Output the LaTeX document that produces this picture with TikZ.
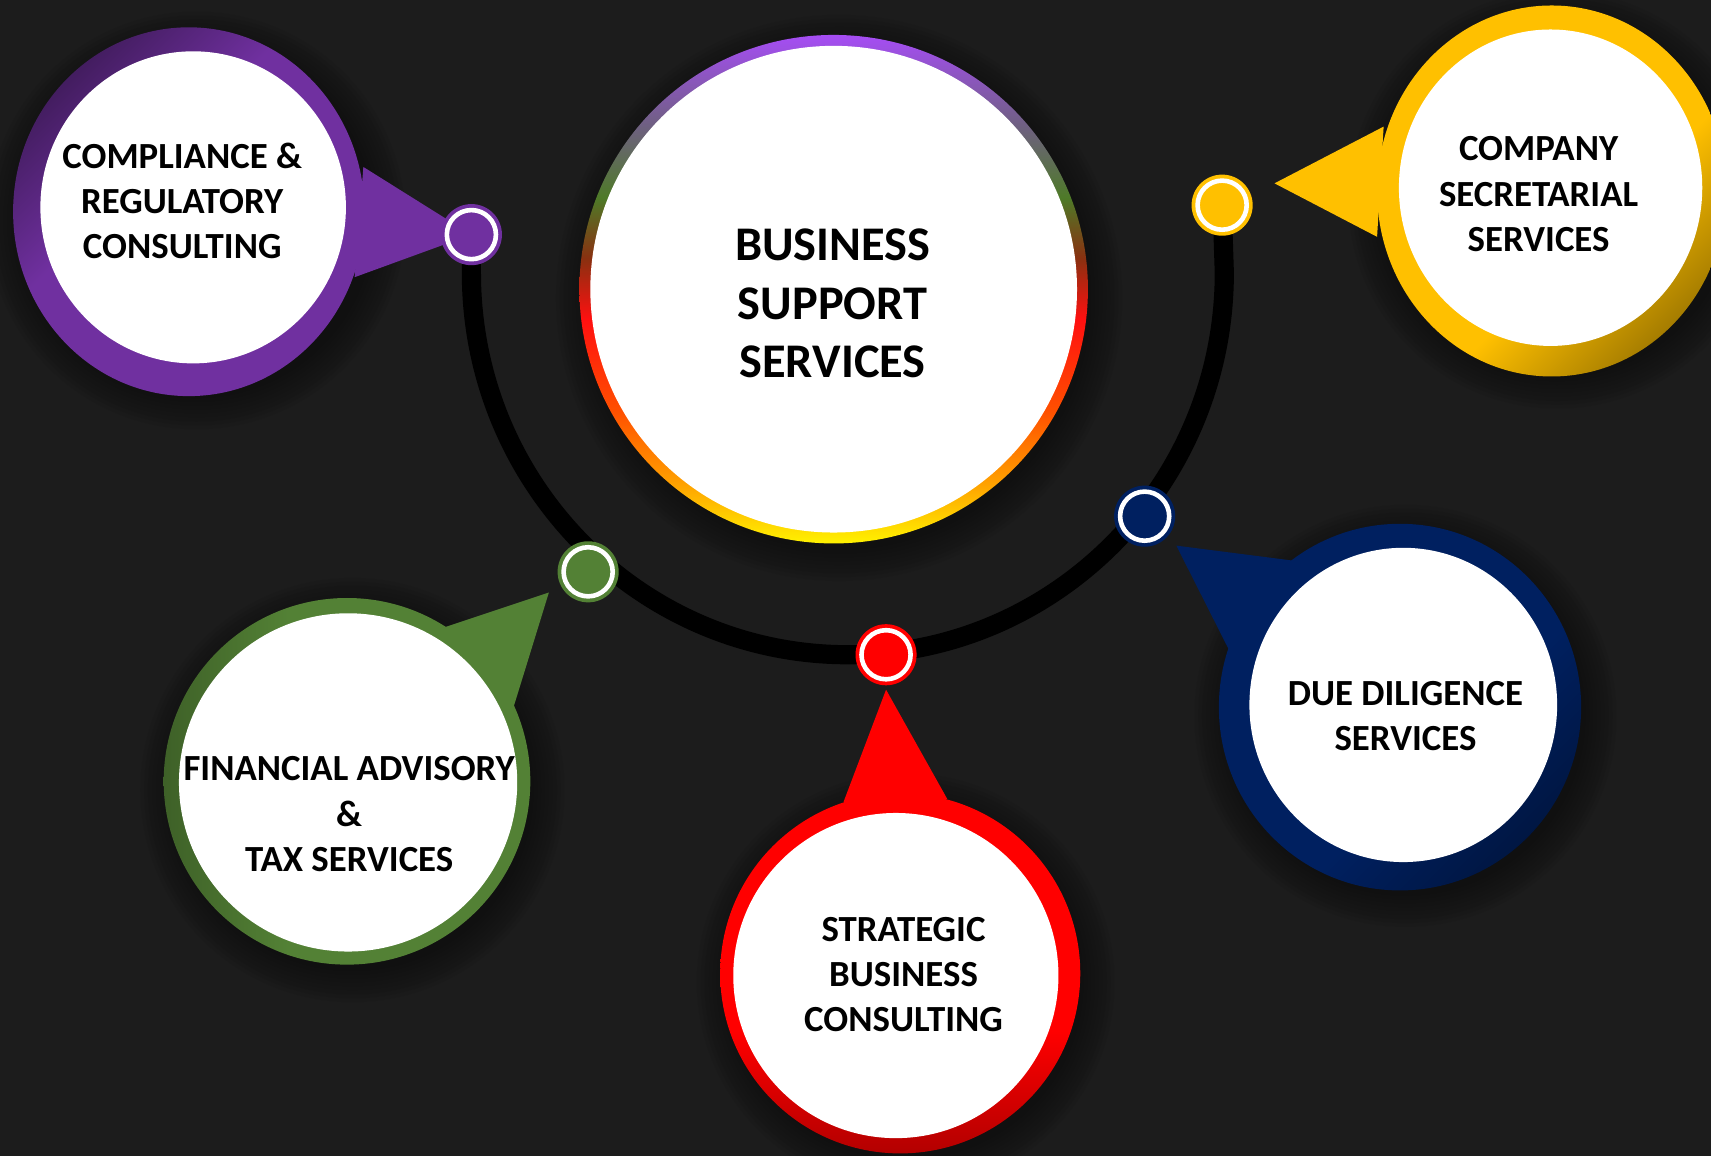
\documentclass[tikz,border=0pt]{standalone}
\usepackage{fontspec}
\setmainfont{Carlito}
\usetikzlibrary{calc}
\definecolor{bg}{HTML}{1C1C1C}
\definecolor{cpurple}{HTML}{7030A0}
\definecolor{cyellow}{HTML}{FFC000}
\definecolor{cnavy}{HTML}{002060}
\definecolor{cred}{HTML}{FF0000}
\definecolor{cgreen}{HTML}{538135}
\definecolor{rY}{HTML}{FFF200}
\definecolor{rO}{HTML}{FFA000}
\definecolor{rOR}{HTML}{FF5000}
\definecolor{rR}{HTML}{FF1010}
\definecolor{rB}{HTML}{8A3010}
\definecolor{rG}{HTML}{4E7A28}
\definecolor{rGr}{HTML}{6E6080}
\definecolor{rP}{HTML}{A64DF5}
\colorlet{bubA}{cpurple}
\colorlet{bubB}{cpurple}
\pgfdeclareverticalshading[bubA,bubB]{bubble}{100bp}{color(0bp)=(bubB); color(25bp)=(bubB); color(42bp)=(bubA); color(100bp)=(bubA)}
\pgfdeclareverticalshading{rainbow}{100bp}{color(0bp)=(rY); color(25bp)=(rY); color(31bp)=(rO); color(38bp)=(rOR); color(47bp)=(rR); color(53bp)=(rB); color(59bp)=(rG); color(66bp)=(rGr); color(75bp)=(rP); color(100bp)=(rP)}
\tikzset{
  lbl/.style={align=center, text=black, inner sep=0pt, font=\fontsize{9.6}{11.8}\selectfont\bfseries},
  mainlbl/.style={align=center, text=black, inner sep=0pt, font=\fontsize{12.6}{15.3}\selectfont\bfseries},
  arcline/.style={draw=black, line width=5pt},
  whitering/.style={draw=white, line width=1.2pt},
  softshadow/.style={fill=black, fill opacity=0.045},
}
\newcommand\mydot[2]{%
  \fill[#2] (#1) circle[radius=28];
  \draw[whitering] (#1) circle[radius=22.5];
}
% soft shadow: centre, radius
\newcommand\myshadow[2]{%
  \foreach \k in {1,...,9}{\fill[softshadow] ($(#1)+(5,-8)$) circle[radius={#2+\k*3.5}];}
}
\begin{document}
\begin{tikzpicture}[x=0.01cm,y=0.01cm]
\useasboundingbox (0,0) rectangle (1568,-1059);
\clip (0,0) rectangle (1568,-1059);
\fill[bg] (0,0) rectangle (1568,-1059);

% dot positions
\coordinate (dP) at (432,-215);
\coordinate (dY) at (1120,-188);
\coordinate (dN) at (1049,-473);
\coordinate (dR) at (812,-600);
\coordinate (dG) at (539,-524);

% shadows
\myshadow{764,-265}{228}
\myshadow{175,-194}{160}
\myshadow{1422,-175}{160}
\myshadow{1283,-648}{162}
\myshadow{825,-892}{160}
\myshadow{318,-716}{163}

% the black arc
\draw[arcline] (dP) -- ++(0,-35)
  arc[start angle=180, end angle=360, x radius=345, y radius=350] -- (dY);

% central circle
\path[shading=rainbow] (764,-265) circle[radius=233];
\fill[white] (764,-265) circle[radius=223];
\node[mainlbl] (main) at (763,-278) {BUSINESS\\SUPPORT\\SERVICES};

% purple bubble
\colorlet{bubA}{cpurple}\colorlet{bubB}{cpurple!60!black}
\fill[cpurple] (333,-153) -- (dP) -- (325,-254) -- cycle;
\path[shading=bubble, shading angle=225] (173,-194) ellipse[x radius=161, y radius=169];
\fill[white] (177,-190) ellipse[x radius=140, y radius=143];
\node[lbl] (comp) at (167,-184) {COMPLIANCE \&\\REGULATORY\\CONSULTING};

% yellow bubble
\colorlet{bubA}{cyellow}\colorlet{bubB}{cyellow!65!black}
\fill[cyellow] (1268,-116) -- (1168,-168) -- (1262,-217) -- cycle;
\path[shading=bubble, shading angle=45] (1422,-175) ellipse[x radius=160, y radius=170];
\fill[white] (1421,-172) ellipse[x radius=139, y radius=145];
\node[lbl] (csec) at (1410,-178) {COMPANY\\SECRETARIAL\\SERVICES};

% navy bubble
\colorlet{bubA}{cnavy}\colorlet{bubB}{cnavy!70!black}
\fill[cnavy] (1187,-514) -- (1078,-500) -- (1128,-599) -- cycle;
\path[shading=bubble, shading angle=45] (1283,-648) ellipse[x radius=166, y radius=168];
\fill[white] (1286,-646) ellipse[x radius=141, y radius=144];
\node[lbl] (ddil) at (1288,-656) {DUE DILIGENCE\\SERVICES};

% red bubble
\colorlet{bubA}{cred}\colorlet{bubB}{cred!70!black}
\fill[cred] (773,-735) -- (812,-632) -- (868,-732) -- cycle;
\path[shading=bubble, shading angle=0] (825,-892) circle[radius=165];
\fill[white] (821,-894) circle[radius=149];
\node[lbl] (strat) at (828,-893) {STRATEGIC\\BUSINESS\\CONSULTING};

% green bubble
\colorlet{bubA}{cgreen}\colorlet{bubB}{cgreen!75!black}
\fill[cgreen] (401,-577) -- (503,-543) -- (470,-650) -- cycle;
\path[shading=bubble, shading angle=270] (318,-716) circle[radius=168];
\fill[white] (319,-717) circle[radius=155];
\node[lbl] (fin) at (320,-746) {FINANCIAL ADVISORY\\\&\\TAX SERVICES};

% dots
\mydot{dP}{cpurple}
\mydot{dY}{cyellow}
\mydot{dN}{cnavy}
\mydot{dR}{cred}
\mydot{dG}{cgreen}
\end{tikzpicture}
\end{document}
